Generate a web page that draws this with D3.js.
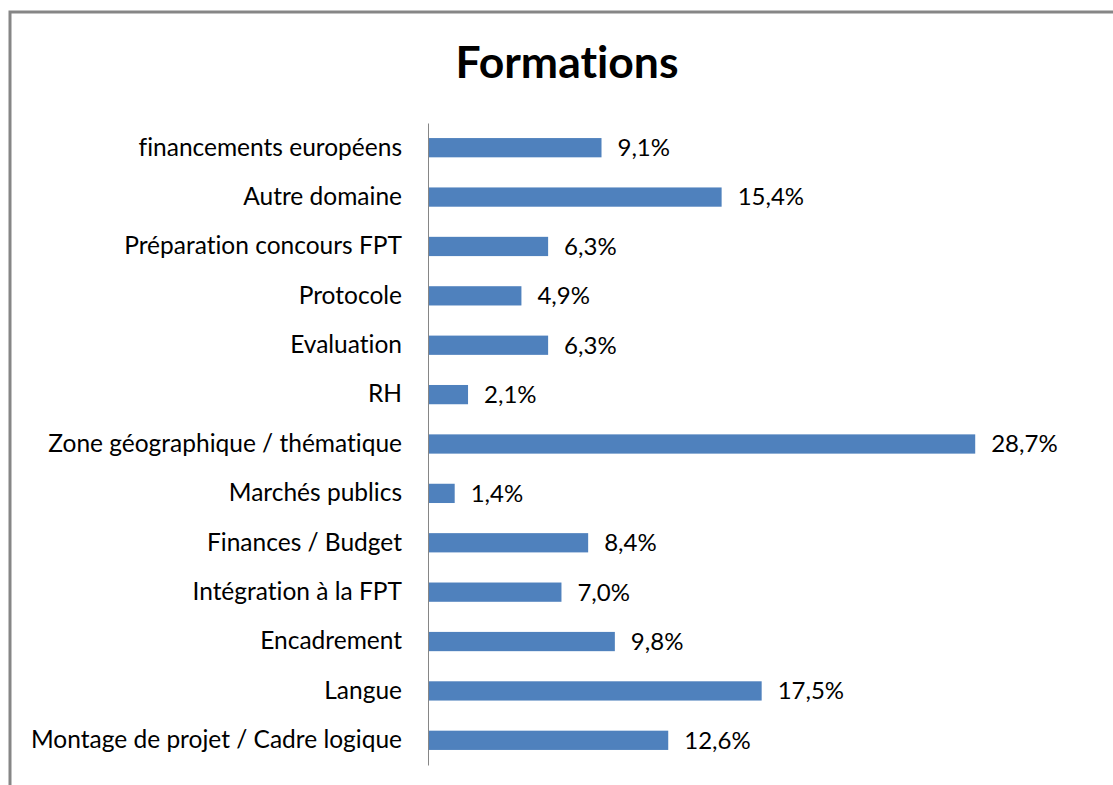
<!DOCTYPE html>
<html lang="fr">
<head>
<meta charset="UTF-8" />
<title>Formations</title>
<style>
  body { margin: 0; background: #fff; overflow: hidden; }
  svg { display: block; font-family: Lato, "Open Sans", sans-serif; font-variant-ligatures: none; }
  .cat text { font-size: 24.5px; fill: #000; }
  .val { font-size: 24px; fill: #000; }
  .title { font-size: 44.5px; font-weight: bold; fill: #000; }
</style>
</head>
<body>
<svg id="chart"></svg>
<script src="https://d3js.org/d3.v7.min.js"></script>
<script>
// categories top to bottom, share in %
const categories = [
  "financements européens",
  "Autre domaine",
  "Préparation concours FPT",
  "Protocole",
  "Evaluation",
  "RH",
  "Zone géographique / thématique",
  "Marchés publics",
  "Finances / Budget",
  "Intégration à la FPT",
  "Encadrement",
  "Langue",
  "Montage de projet / Cadre logique"
];
const values = [9.1, 15.4, 6.3, 4.9, 6.3, 2.1, 28.7, 1.4, 8.4, 7.0, 9.8, 17.5, 12.6];
const chartTitle = "Formations";

const width = 1113, height = 785;
const svg = d3.select("#chart").attr("width", width).attr("height", height);

// outer frame (right/bottom edges run off the picture)
svg.append("rect")
  .attr("x", 10).attr("y", 12)
  .attr("width", 1200).attr("height", 900)
  .attr("fill", "#fff")
  .attr("stroke", "#868686")
  .attr("stroke-width", 3);

svg.append("text")
  .attr("class", "title")
  .attr("x", 567).attr("y", 78)
  .attr("text-anchor", "middle")
  .text(chartTitle);

const data = categories.map((c, i) => ({ cat: c, val: values[i] }));

const x = d3.scaleLinear().domain([0, 30]).range([428, 1000]);
const y = d3.scaleBand()
  .domain(categories)
  .range([123, 765])
  .paddingInner(0.61)
  .paddingOuter(0.305);

// bars
svg.selectAll(".bar")
  .data(data)
  .enter()
  .append("rect")
  .attr("class", "bar")
  .attr("x", x(0))
  .attr("y", d => y(d.cat))
  .attr("width", d => x(d.val) - x(0))
  .attr("height", y.bandwidth())
  .attr("fill", "#4F81BD");

// category axis
const axis = svg.append("g")
  .attr("class", "cat")
  .attr("transform", `translate(${x(0)},0)`)
  .call(d3.axisLeft(y).tickSize(0).tickSizeOuter(0).tickPadding(26));
axis.attr("font-family", null).attr("font-size", null);
axis.select(".domain").attr("stroke", "#868686").attr("stroke-width", 1);

// value labels
const fmt = d => d3.format(".1f")(d).replace(".", ",") + "%";
svg.selectAll(".val")
  .data(data)
  .enter()
  .append("text")
  .attr("class", "val")
  .attr("x", d => x(d.val) + 16)
  .attr("y", d => y(d.cat) + y.bandwidth() / 2)
  .attr("dy", "0.35em")
  .text(d => fmt(d.val));
</script>
</body>
</html>
